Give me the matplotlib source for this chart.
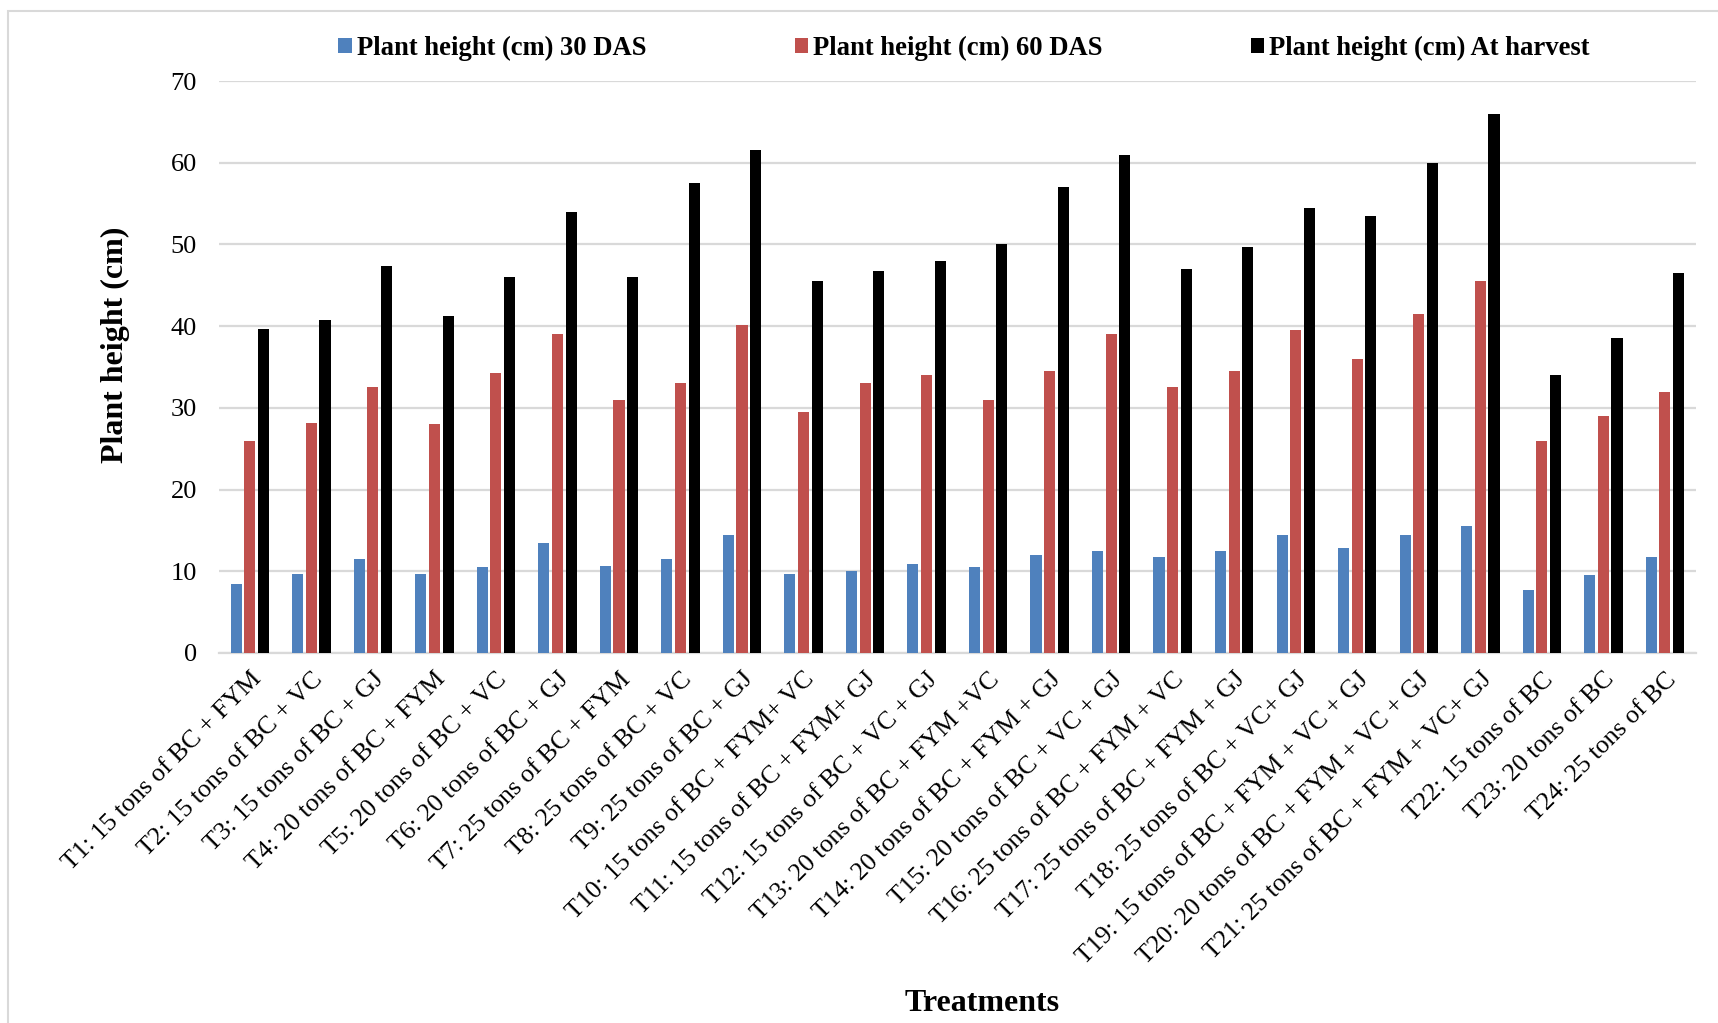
#!/usr/bin/env python3
"""
Plant height of each treatment at 30 DAS, 60 DAS and at harvest,
drawn as a grouped bar chart.
"""

import numpy as np
import matplotlib
matplotlib.use("Agg")
import matplotlib.pyplot as plt
from matplotlib.patches import Rectangle

OUT_PATH = "out.png"

# Treatment labels (x axis)
treatments = [
    "T1: 15 tons of BC + FYM",
    "T2: 15 tons of BC + VC",
    "T3: 15 tons of BC + GJ",
    "T4: 20 tons of BC + FYM",
    "T5: 20 tons of BC + VC",
    "T6: 20 tons of BC + GJ",
    "T7: 25 tons of BC + FYM",
    "T8: 25 tons of BC + VC",
    "T9: 25 tons of BC + GJ",
    "T10: 15 tons of BC + FYM+ VC",
    "T11: 15 tons of BC + FYM+ GJ",
    "T12: 15 tons of BC + VC + GJ",
    "T13: 20 tons of BC + FYM +VC",
    "T14: 20 tons of BC + FYM + GJ",
    "T15: 20 tons of BC + VC + GJ",
    "T16: 25 tons of BC + FYM + VC",
    "T17: 25 tons of BC + FYM + GJ",
    "T18: 25 tons of BC + VC+ GJ",
    "T19: 15 tons of BC + FYM + VC + GJ",
    "T20: 20 tons of BC + FYM + VC + GJ",
    "T21: 25 tons of BC + FYM + VC+ GJ",
    "T22: 15 tons of BC",
    "T23: 20 tons of BC",
    "T24: 25 tons of BC",
]

# Plant height (cm)
height_30das = [8.5, 9.7, 11.5, 9.7, 10.5, 13.5, 10.7, 11.5, 14.5, 9.7, 10.0, 10.9,
                10.5, 12.0, 12.5, 11.7, 12.5, 14.5, 12.9, 14.5, 15.5, 7.7, 9.5, 11.7]
height_60das = [26.0, 28.2, 32.5, 28.0, 34.3, 39.0, 31.0, 33.0, 40.2, 29.5, 33.0, 34.0,
                31.0, 34.5, 39.0, 32.5, 34.5, 39.5, 36.0, 41.5, 45.5, 26.0, 29.0, 32.0]
height_harvest = [39.7, 40.7, 47.3, 41.2, 46.0, 54.0, 46.0, 57.5, 61.5, 45.5, 46.7, 48.0,
                  50.0, 57.0, 61.0, 47.0, 49.7, 54.5, 53.5, 60.0, 66.0, 34.0, 38.5, 46.5]

series_labels = [
    "Plant height (cm) 30 DAS",
    "Plant height (cm) 60 DAS",
    "Plant height (cm) At harvest",
]
series_colors = ["#4f81bd", "#c0504d", "#000000"]

y_ticks = [0, 10, 20, 30, 40, 50, 60, 70]

SERIF = ["Liberation Serif", "DejaVu Serif"]


def draw_chart():
    """Grouped bars, one group per treatment"""
    fig = plt.figure(figsize=(17.18, 10.23), dpi=100)
    ax = fig.add_axes([0.1275, 0.3617, 0.8595, 0.5591])

    x = np.arange(len(treatments))
    bar_w = 0.18
    step = 0.222
    series = [height_30das, height_60das, height_harvest]
    for i, (vals, label, color) in enumerate(zip(series, series_labels, series_colors)):
        ax.bar(x + (i - 1) * step, vals, width=bar_w, color=color,
               label=label, zorder=3)

    ax.set_xlim(-0.5, len(treatments) - 0.5)
    ax.set_ylim(0, 70)
    ax.set_yticks(y_ticks)
    ax.set_yticklabels([str(v) for v in y_ticks], fontsize=19, family=SERIF)
    ax.grid(axis="y", color="#d9d9d9", linewidth=1.6, zorder=0)
    ax.tick_params(axis="both", length=0)
    ax.tick_params(axis="y", pad=16)
    for side in ["top", "right", "left"]:
        ax.spines[side].set_visible(False)
    ax.spines["bottom"].set_color("#d9d9d9")
    ax.spines["bottom"].set_linewidth(1.6)

    ax.set_xticks(x)
    ax.set_xticklabels(treatments, rotation=45, ha="right", va="top",
                       rotation_mode="anchor", fontsize=18.6, family=SERIF)
    ax.tick_params(axis="x", pad=11)

    # Axis titles
    fig.text(0.067, 0.663, "Plant height (cm)", rotation=90, ha="center",
             va="center", fontsize=23, fontweight="bold", family=SERIF)
    fig.text(0.5716, 0.0186, "Treatments", ha="center", va="center",
             fontsize=23, fontweight="bold", family=SERIF)

    # Legend across the top
    fig.legend(loc="center", bbox_to_anchor=(0.5612, 0.953), ncol=3,
               frameon=False, handlelength=0.5, handleheight=0.5,
               handletextpad=0.2, columnspacing=5.55,
               prop={"family": SERIF, "weight": "bold", "size": 19.2})

    # Light outer frame
    fig.patches.append(Rectangle((8 / 1718, -0.05), 1.2, 1.05 - 11 / 1023,
                                 transform=fig.transFigure, fill=False,
                                 edgecolor="#d9d9d9", linewidth=1.5))

    fig.savefig(OUT_PATH, dpi=100)
    plt.close(fig)
    print(f"Chart saved to: {OUT_PATH}")


def main():
    draw_chart()


if __name__ == "__main__":
    main()
